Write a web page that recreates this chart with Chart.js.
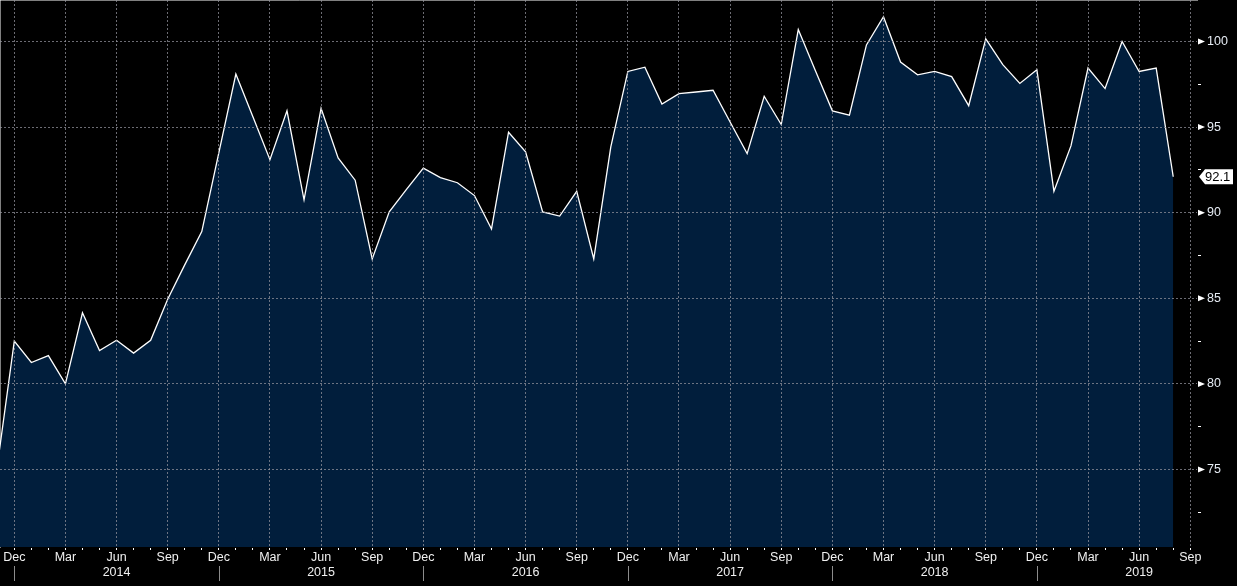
<!DOCTYPE html>
<html>
<head>
<meta charset="utf-8">
<script src="https://cdn.jsdelivr.net/npm/chart.js@4.4.1/dist/chart.umd.min.js"></script>
<style>
  html, body { margin: 0; padding: 0; background: #000; }
  #wrap { position: relative; width: 1237px; height: 586px; background: #000; }
</style>
</head>
<body>
<div id="wrap"><canvas id="c"></canvas></div>
<script>
// ---- data ----
const months = [
  '2013-11','2013-12',
  '2014-01','2014-02','2014-03','2014-04','2014-05','2014-06','2014-07','2014-08','2014-09','2014-10','2014-11','2014-12',
  '2015-01','2015-02','2015-03','2015-04','2015-05','2015-06','2015-07','2015-08','2015-09','2015-10','2015-11','2015-12',
  '2016-01','2016-02','2016-03','2016-04','2016-05','2016-06','2016-07','2016-08','2016-09','2016-10','2016-11','2016-12',
  '2017-01','2017-02','2017-03','2017-04','2017-05','2017-06','2017-07','2017-08','2017-09','2017-10','2017-11','2017-12',
  '2018-01','2018-02','2018-03','2018-04','2018-05','2018-06','2018-07','2018-08','2018-09','2018-10','2018-11','2018-12',
  '2019-01','2019-02','2019-03','2019-04','2019-05','2019-06','2019-07','2019-08'
];
const values = [
  75.2, 82.5,
  81.25, 81.65, 80.0, 84.15, 81.95, 82.55, 81.8, 82.55, 84.95, 86.95, 88.9, 93.5,
  98.1, 95.6, 93.1, 95.95, 90.75, 96.1, 93.2, 91.9, 87.3, 90.05, 91.35, 92.6,
  92.05, 91.75, 91.0, 89.05, 94.7, 93.55, 90.05, 89.8, 91.25, 87.3, 93.85, 98.25,
  98.5, 96.35, 96.95, 97.05, 97.15, 95.3, 93.45, 96.8, 95.15, 100.7, 98.3, 95.95,
  95.7, 99.8, 101.45, 98.8, 98.05, 98.25, 97.95, 96.25, 100.15, 98.65, 97.55, 98.35,
  91.25, 93.9, 98.45, 97.25, 100.0, 98.25, 98.45, 92.1
];
const lastLabel = '92.1';
const monthNames = ['Jan','Feb','Mar','Apr','May','Jun','Jul','Aug','Sep','Oct','Nov','Dec'];
const yTicks = [72.5, 75, 77.5, 80, 82.5, 85, 87.5, 90, 92.5, 95, 97.5, 100];
const yLabelValues = [75, 80, 85, 90, 95, 100];
const xFirstTick = '2013-12';
const xLastTick = '2019-09';

// ---- helpers ----
const BASE_Y = 2013, BASE_M = 12; // offset 0 = Dec 2013
function offsetOf(s) { const [yy, mm] = s.split('-').map(Number); return (yy - BASE_Y) * 12 + (mm - BASE_M); }
function monthIdx(v) { return ((BASE_M - 1 + v) % 12 + 12) % 12; }
function yearOf(v) { return BASE_Y + Math.floor((BASE_M - 1 + v) / 12); }
const xTickValues = [];
for (let v = offsetOf(xFirstTick); v <= offsetOf(xLastTick); v++) xTickValues.push(v);

const points = months.map((m, i) => ({ x: offsetOf(m), y: values[i] }));

const FONT = 'Liberation Sans, Arial, sans-serif';
const GRID = 'rgba(150,150,160,0.72)';
const CLEAR = 'rgba(0,0,0,0)';

const decor = {
  id: 'decor',
  afterDraw(chart) {
    const { ctx, chartArea: a, scales: { x, y } } = chart;
    ctx.save();
    // tick flags on major y ticks
    ctx.fillStyle = '#ffffff';
    yLabelValues.forEach(v => {
      const p = y.getPixelForValue(v);
      ctx.beginPath();
      ctx.moveTo(a.right + 1, p - 3);
      ctx.lineTo(a.right + 8, p);
      ctx.lineTo(a.right + 1, p + 3);
      ctx.closePath();
      ctx.fill();
    });
    // year separators under December
    ctx.strokeStyle = '#8c8c8c';
    ctx.lineWidth = 1;
    xTickValues.filter(v => monthIdx(v) === 11).forEach(v => {
      const p = Math.round(x.getPixelForValue(v)) + 0.5;
      ctx.beginPath();
      ctx.moveTo(p, a.bottom + 19);
      ctx.lineTo(p, a.bottom + 34);
      ctx.stroke();
    });
    // last value tag
    const lv = values[values.length - 1];
    const p = y.getPixelForValue(lv);
    const x0 = a.right + 2, h = 15, xr = 1233;
    ctx.fillStyle = '#ffffff';
    ctx.beginPath();
    ctx.moveTo(x0, p);
    ctx.lineTo(x0 + 6, p - h / 2);
    ctx.lineTo(xr, p - h / 2);
    ctx.lineTo(xr, p + h / 2);
    ctx.lineTo(x0 + 6, p + h / 2);
    ctx.closePath();
    ctx.fill();
    ctx.fillStyle = '#000000';
    ctx.font = '13px ' + FONT;
    ctx.textBaseline = 'middle';
    ctx.textAlign = 'left';
    ctx.fillText(lastLabel, x0 + 6, p + 0.5);
    ctx.restore();
  }
};

new Chart(document.getElementById('c'), {
  type: 'line',
  data: {
    datasets: [{
      data: points,
      borderColor: '#ffffff',
      borderWidth: 1.3,
      backgroundColor: '#011e3c',
      fill: 'start',
      pointRadius: 0,
      tension: 0
    }]
  },
  options: {
    responsive: true,
    maintainAspectRatio: false,
    animation: false,
    layout: { padding: 0 },
    plugins: { legend: { display: false }, tooltip: { enabled: false } },
    scales: {
      x: {
        type: 'linear',
        min: -0.839,
        max: 69.395,
        afterBuildTicks: s => { s.ticks = xTickValues.map(v => ({ value: v })); },
        afterFit: s => { s.height = 39; s.paddingLeft = 0; s.paddingRight = 0; },
        grid: {
          z: 1,
          color: c => (c.tick && monthIdx(c.tick.value) % 3 === 2) ? GRID : CLEAR,
          lineWidth: 1,
          drawTicks: true,
          tickLength: 3,
          tickColor: '#ffffff',
          tickBorderDash: []
        },
        border: { display: true, color: '#ffffff', width: 1, dash: [2, 2] },
        ticks: {
          autoSkip: false,
          maxRotation: 0,
          minRotation: 0,
          padding: 0,
          color: '#f0f0f0',
          font: { family: FONT, size: 12.5, lineHeight: '15px' },
          callback: v => {
            const mi = monthIdx(v);
            if (mi % 3 !== 2) return '';
            if (mi === 5) return [monthNames[mi], String(yearOf(v))];
            return monthNames[mi];
          }
        }
      },
      y: {
        position: 'right',
        min: 70.473,
        max: 102.424,
        afterBuildTicks: s => { s.ticks = yTicks.map(v => ({ value: v })); },
        afterFit: s => { s.width = 40; s.paddingTop = 0; s.paddingBottom = 0; },
        grid: {
          z: 1,
          color: c => (c.tick && yLabelValues.includes(c.tick.value)) ? GRID : CLEAR,
          lineWidth: 1,
          drawTicks: true,
          tickLength: 4,
          tickColor: c => (c.tick && yLabelValues.includes(c.tick.value)) ? CLEAR : '#ffffff',
          tickBorderDash: []
        },
        border: { display: true, color: '#ffffff', width: 1, dash: [2, 2] },
        ticks: {
          padding: 6,
          color: '#e6ecf4',
          font: { family: FONT, size: 12.5 },
          callback: v => yLabelValues.includes(v) ? String(v) : ''
        }
      }
    }
  },
  plugins: [decor]
});
</script>
</body>
</html>
